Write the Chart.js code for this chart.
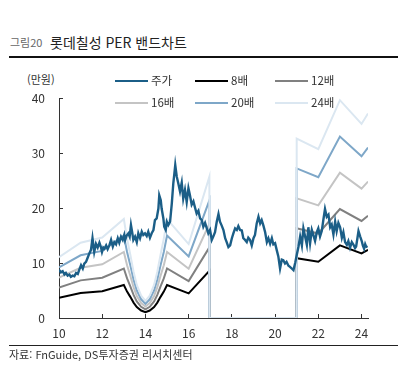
<!DOCTYPE html>
<html lang="ko">
<head>
<meta charset="utf-8">
<title>롯데칠성 PER 밴드차트</title>
<script src="https://cdn.jsdelivr.net/npm/chart.js@4.4.1/dist/chart.umd.min.js"></script>
<style>
  body { margin: 0; background: #fff; font-family: "Noto Sans CJK KR", "Noto Sans", sans-serif; }
  #wrap { position: relative; width: 406px; height: 375px; overflow: hidden; }
  #chart { position: absolute; left: 0; top: 0; }
  .txt { position: absolute; white-space: nowrap; line-height: 1; }
  .rule { position: absolute; left: 9px; width: 389px; }
  .leg { position: absolute; display: flex; align-items: center; font-size: 11.5px; color: #333; line-height: 1; white-space: nowrap; }
  .leg i { display: inline-block; width: 33px; height: 2px; margin-right: 3px; }
</style>
</head>
<body>
<div id="wrap">
  <div class="txt" style="left:10px; top:37px; font-size:11px; color:#666;">그림20</div>
  <div class="txt" style="left:50px; top:35px; font-size:14px; color:#222;">롯데칠성 PER 밴드차트</div>
  <div class="rule" style="top:56px; height:2px; background:#111;"></div>
  <div class="txt" style="left:27px; top:74px; font-size:11px; color:#333;">(만원)</div>
  <canvas id="chart" width="406" height="375"></canvas>
  <div id="legend"></div>
  <div class="rule" style="top:345px; height:1px; background:#222;"></div>
  <div class="txt" style="left:9px; top:349px; font-size:11px; color:#333;">자료: FnGuide, DS투자증권 리서치센터</div>
</div>
<script>
// 주가 (만원), x = 연도 (10 = 2010)
const priceYears = [
  10.00, 10.09, 10.17, 10.25, 10.32, 10.40, 10.48, 10.55, 10.63, 10.71, 10.79, 10.87, 10.94,
  11.02, 11.10, 11.17, 11.25, 11.33, 11.40, 11.48, 11.55, 11.63, 11.71, 11.79, 11.87, 11.94, 11.99,
  12.05, 12.10, 12.18, 12.25, 12.33, 12.41, 12.49, 12.56, 12.64, 12.72, 12.79, 12.87, 12.95,
  13.02, 13.06, 13.13, 13.21, 13.27, 13.33, 13.39, 13.44, 13.52, 13.60, 13.67, 13.75, 13.83, 13.90, 13.98,
  14.06, 14.13, 14.21, 14.29, 14.37, 14.44, 14.52, 14.60, 14.64, 14.71, 14.75, 14.83, 14.87, 14.94, 14.99,
  15.06, 15.14, 15.22, 15.29, 15.34, 15.38, 15.45, 15.52, 15.60, 15.68, 15.75, 15.83, 15.91, 15.99,
  16.06, 16.14, 16.22, 16.30, 16.37, 16.45, 16.53, 16.61, 16.68, 16.76, 16.84, 16.91, 16.99,
  17.07, 17.14, 17.22, 17.30, 17.38, 17.45, 17.53, 17.61, 17.69, 17.76, 17.84, 17.92,
  18.00, 18.07, 18.15, 18.23, 18.30, 18.38, 18.46, 18.53, 18.61, 18.69, 18.76, 18.84, 18.92,
  19.00, 19.07, 19.15, 19.23, 19.31, 19.38, 19.46, 19.54, 19.62, 19.69, 19.77, 19.85, 19.92,
  20.00, 20.08, 20.15, 20.23, 20.31, 20.38, 20.46, 20.53, 20.62, 20.69, 20.77, 20.85, 20.93,
  21.00, 21.08, 21.16, 21.24, 21.31, 21.39, 21.47, 21.54, 21.62, 21.70, 21.77, 21.85, 21.93,
  22.00, 22.08, 22.16, 22.24, 22.31, 22.39, 22.47, 22.55, 22.62, 22.70, 22.78, 22.85, 22.93,
  23.01, 23.09, 23.16, 23.24, 23.32, 23.39, 23.47, 23.55, 23.63, 23.70, 23.75, 23.81, 23.86, 23.94,
  24.01, 24.06, 24.12, 24.17, 24.21, 24.28
];
const priceValues = [
  8.8, 8.3, 8.5, 7.9, 8.2, 7.7, 7.9, 7.5, 7.7, 7.6, 8.2, 8.0, 8.8,
  9.6, 9.0, 9.9, 10.2, 11.0, 11.7, 12.4, 14.5, 12.0, 13.5, 12.8, 13.7, 12.9, 12.0,
  12.8, 12.6, 13.2, 12.5, 13.2, 14.2, 13.0, 13.8, 13.4, 14.5, 13.7, 14.8, 14.2,
  15.1, 14.2, 15.0, 15.4, 14.8, 16.9, 15.5, 14.2, 14.8, 13.8, 15.4, 14.5, 15.7, 15.1, 15.4,
  14.9, 15.7, 14.6, 15.4, 16.0, 17.8, 18.1, 19.9, 22.3, 21.4, 19.9, 18.1, 16.6, 16.0, 17.5,
  16.9, 17.5, 20.8, 24.5, 26.3, 27.8, 25.7, 24.5, 23.0, 24.6, 21.7, 23.3, 21.1, 23.6,
  22.3, 20.6, 21.2, 20.0, 19.0, 19.5, 18.1, 17.8, 16.6, 17.3, 16.3, 15.4, 16.0,
  14.2, 14.8, 15.6, 17.5, 18.9, 17.5, 16.8, 16.0, 14.5, 13.8, 12.9, 13.2,
  14.5, 15.4, 16.3, 16.0, 16.7, 16.0, 15.9, 14.5, 14.2, 13.8, 14.6, 14.2, 13.2,
  14.5, 15.1, 17.2, 18.4, 17.2, 17.8, 16.8, 15.6, 13.8, 14.5, 13.5, 14.5, 13.4,
  13.6, 12.3, 11.2, 9.0, 10.6, 10.5, 9.9, 10.2, 9.5, 9.3, 9.0, 8.7, 10.0,
  11.4, 12.9, 14.8, 13.2, 16.3, 14.8, 13.3, 16.5, 13.6, 16.0, 15.1, 14.0, 15.6,
  16.3, 14.8, 15.8, 18.0, 19.8, 18.4, 18.8, 16.5, 17.0, 15.2, 17.5, 15.8, 17.3,
  16.5, 14.6, 15.6, 13.8, 13.3, 14.0, 12.8, 13.8, 13.3, 12.7, 13.0, 14.5, 15.8, 14.8,
  14.0, 13.2, 12.6, 13.4, 13.0, 12.9
];

// 12개월 선행 EPS (만원), 밴드 = EPS x 배수
const epsYears = [10, 11, 12, 13, 13.15, 13.3, 13.45, 13.6, 13.8, 14.0, 14.2, 14.4, 14.55, 14.7, 14.85, 15, 16, 16.96, 16.96, 21, 21, 22, 23, 24, 24.3];
const epsValues = [0.46, 0.57, 0.61, 0.75, 0.6, 0.48, 0.35, 0.25, 0.17, 0.13, 0.17, 0.25, 0.35, 0.48, 0.6, 0.75, 0.56, 1.07, 0, 0, 1.36, 1.28, 1.65, 1.47, 1.55];

const multiples = [8, 12, 16, 20, 24];
const bandLabels = ['8배', '12배', '16배', '20배', '24배'];
const bandColors = ['#000000', '#808080', '#c4c4c4', '#7ea7c8', '#dbe7f1'];
const priceLabel = '주가';
const priceColor = '#1b5e87';

const xTicks = { min: 10, max: 24.3, step: 2 };
const yTicks = { min: 0, max: 40, step: 10 };

const FONT = '"Noto Sans CJK KR", "Noto Sans", sans-serif';

const datasets = [{
  label: priceLabel,
  data: priceYears.map((x, i) => ({ x, y: priceValues[i] })),
  borderColor: priceColor,
  borderWidth: 2.4,
  pointRadius: 0,
  tension: 0,
  order: 0
}];
multiples.forEach((m, k) => {
  datasets.push({
    label: bandLabels[k],
    data: epsYears.map((x, i) => ({ x, y: epsValues[i] * m })),
    borderColor: bandColors[k],
    borderWidth: 2,
    pointRadius: 0,
    tension: 0,
    order: multiples.length - k
  });
});

// legend (3 columns x 2 rows)
const legendCols = [115, 195, 275];
const legendRows = [81, 103];
document.getElementById('legend').innerHTML = datasets.map((d, i) => {
  const left = legendCols[i % 3];
  const top = legendRows[Math.floor(i / 3)] - 6;
  return `<div class="leg" style="left:${left}px; top:${top}px; height:12px;"><i style="background:${d.borderColor}"></i>${d.label}</div>`;
}).join('');

new Chart(document.getElementById('chart'), {
  type: 'line',
  data: { datasets },
  options: {
    responsive: false,
    animation: false,
    layout: { padding: { top: 98, right: 38, left: 0, bottom: 0 } },
    plugins: { legend: { display: false }, tooltip: { enabled: false } },
    scales: {
      x: {
        type: 'linear',
        min: xTicks.min,
        max: xTicks.max,
        border: { color: '#333', width: 1 },
        grid: { drawOnChartArea: false, tickLength: -4, color: '#333' },
        ticks: { stepSize: xTicks.step, includeBounds: false, padding: 12, color: '#333', maxRotation: 0, font: { size: 12, family: FONT } },
        afterFit: s => { s.height = 57; }
      },
      y: {
        min: yTicks.min,
        max: yTicks.max,
        border: { color: '#333', width: 1 },
        grid: { drawOnChartArea: false, tickLength: -4, color: '#333' },
        ticks: { stepSize: yTicks.step, padding: 18, color: '#333', font: { size: 12, family: FONT } },
        afterFit: s => { s.width = 59; }
      }
    }
  }
});
</script>
</body>
</html>
